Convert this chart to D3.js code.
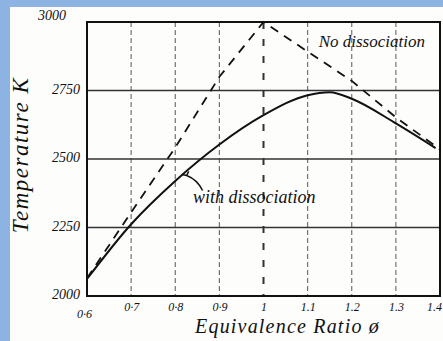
<!DOCTYPE html>
<html><head><meta charset="utf-8">
<script src="https://cdn.jsdelivr.net/npm/d3@7"></script>
<style>html,body{margin:0;padding:0;background:#8db3e2;}svg{display:block;}</style>
</head><body>
<svg id="c" width="443" height="341"></svg>
<script>
const phi = [0.6, 0.7, 0.8, 0.9, 1.0, 1.1, 1.2, 1.3, 1.4];
const noDissociation = [2065, 2305, 2542, 2800, 3000, 2892, 2785, 2652, 2535];
const withPhi = [0.6, 0.7, 0.8, 0.9, 1.0, 1.1, 1.15, 1.2, 1.3, 1.39];
const withDissociation = [2062, 2262, 2420, 2553, 2660, 2733, 2744, 2720, 2630, 2540];
const xTicks = [0.6, 0.7, 0.8, 0.9, 1.0, 1.1, 1.2, 1.3, 1.4];
const xTickLabels = ["0·6", "0·7", "0·8", "0·9", "1", "1.1", "1.2", "1.3", "1.4"];
const yTicks = [2000, 2250, 2500, 2750, 3000];

const font = "'Liberation Serif', serif";
const svg = d3.select("#c");
svg.append("rect").attr("x", 10).attr("y", 7).attr("width", 433).attr("height", 334).attr("fill", "#fdfdfc");

const x = d3.scaleLinear().domain([0.6, 1.4]).range([87, 440]);
const y = d3.scaleLinear().domain([2000, 3000]).range([296, 22]);

// vertical grid
svg.append("g").selectAll("line").data(xTicks.filter(d => d > 0.6 && d < 1.4)).join("line")
  .attr("x1", d => x(d)).attr("x2", d => x(d)).attr("y1", y(3000)).attr("y2", y(2000))
  .attr("stroke", d => d === 1.0 ? "#333" : "#666")
  .attr("stroke-width", d => d === 1.0 ? 2 : 1.1)
  .attr("stroke-dasharray", d => d === 1.0 ? "7,10" : "5,3");
// horizontal grid
svg.append("g").selectAll("line").data(yTicks.filter(d => d > 2000 && d < 3000)).join("line")
  .attr("x1", x(0.6)).attr("x2", x(1.4)).attr("y1", d => y(d)).attr("y2", d => y(d))
  .attr("stroke", "#333").attr("stroke-width", 1.6);

// frame
svg.append("rect").attr("x", x(0.6)).attr("y", y(3000)).attr("width", x(1.4) - x(0.6)).attr("height", y(2000) - y(3000))
  .attr("fill", "none").attr("stroke", "#111").attr("stroke-width", 2);

// axes
const xa = svg.append("g").attr("transform", `translate(0,${y(2000)})`)
  .call(d3.axisBottom(x).tickValues(xTicks).tickFormat((d, i) => xTickLabels[i]).tickSize(0).tickPadding(6));
xa.select(".domain").remove();
xa.selectAll("text").attr("font-family", font).attr("font-style", "italic").attr("font-size", 12).attr("fill", "#111")
  .attr("dy", (d) => d === 0.6 ? "1.3em" : "0.71em").attr("dx", d => d === 0.6 ? -3 : (d === 1.4 ? -6 : 0));

const ya = svg.append("g").attr("transform", `translate(${x(0.6)},0)`)
  .call(d3.axisLeft(y).tickValues(yTicks).tickFormat(d3.format("d")).tickSize(0).tickPadding(7));
ya.select(".domain").remove();
ya.selectAll("text").attr("font-family", font).attr("font-style", "italic").attr("font-size", 14).attr("fill", "#111")
  .attr("dx", d => d === 3000 ? -14 : 0).attr("dy", d => d === 3000 ? "-0.2em" : "0.2em");

// lines
const lineA = d3.line().x((d, i) => x(phi[i])).y(d => y(d));
svg.append("path").datum(noDissociation).attr("d", lineA).attr("fill", "none")
  .attr("stroke", "#111").attr("stroke-width", 1.8).attr("stroke-dasharray", "9,7");
const lineB = d3.line().x((d, i) => x(withPhi[i])).y(d => y(d)).curve(d3.curveMonotoneX);
svg.append("path").datum(withDissociation).attr("d", lineB).attr("fill", "none")
  .attr("stroke", "#111").attr("stroke-width", 2);

// annotations
svg.append("text").attr("x", x(1.125)).attr("y", y(2910)).text("No dissociation")
  .attr("font-family", font).attr("font-style", "italic").attr("font-size", 17).attr("fill", "#111");
svg.append("text").attr("x", x(0.84)).attr("y", y(2340)).text("with dissociation")
  .attr("font-family", font).attr("font-style", "italic").attr("font-size", 18).attr("fill", "#111");
// pointer
const p0 = [x(0.826), y(2440)];
svg.append("path").attr("d", `M${x(0.862)},${y(2385)} Q${x(0.85)},${y(2425)} ${p0[0]},${p0[1]} l-5,-1 M${p0[0]},${p0[1]} l2,-4`)
  .attr("fill", "none").attr("stroke", "#111").attr("stroke-width", 1.5);

// axis titles
svg.append("text").attr("transform", `translate(28,${(y(2000)+y(3000))/2 - 4}) rotate(-90)`)
  .attr("text-anchor", "middle").text("Temperature K").attr("letter-spacing", 1.5)
  .attr("font-family", font).attr("font-style", "italic").attr("font-size", 23).attr("fill", "#111");
svg.append("text").attr("x", x(1.0) + 24).attr("y", 333).attr("text-anchor", "middle").text("Equivalence Ratio ø")
  .attr("letter-spacing", 1.2)
  .attr("font-family", font).attr("font-style", "italic").attr("font-size", 20).attr("fill", "#111");
</script>
</body></html>
